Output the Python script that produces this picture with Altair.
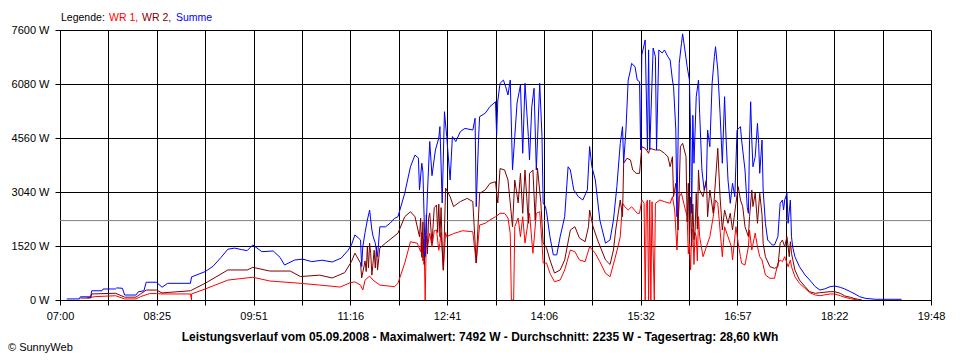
import altair as alt
import pandas as pd

# ---------------- data ----------------
SUMME_T = ["07:06","07:17","07:18","07:27","07:28","07:37","07:38","07:49","07:50","07:55","07:57","08:07","08:09","08:14","08:16","08:25","08:30","08:35","08:55","08:56",
           "09:08","09:15","09:22","09:28","09:34","09:40","09:45","09:50","09:58","10:08","10:14","10:18","10:27","10:34","10:42","10:51","11:00","11:08","11:14","11:17",
           "11:20","11:23","11:25","11:26","11:27","11:29","11:31","11:33","11:35","11:36","11:38","11:40","11:42","11:47","11:51","11:55","11:58","12:04","12:09","12:13",
           "12:16","12:17","12:19","12:20","12:22","12:24","12:26","12:28","12:31","12:34","12:35","12:37","12:39","12:41","12:44","12:46","12:49","12:53","12:57","13:04",
           "13:06","13:07","13:09","13:10","13:15","13:19","13:24","13:25","13:26","13:28","13:31","13:33","13:35","13:37","13:39","13:41","13:43","13:46","13:48","13:50",
           "13:53","13:54","13:56","13:58","14:00","14:03","14:05","14:06","14:08","14:09","14:12","14:15","14:18","14:21","14:25","14:28","14:30","14:33","14:37","14:41",
           "14:45","14:47","14:49","14:52","14:56","15:01","15:05","15:08","15:11","15:14","15:16","15:17","15:19","15:21","15:23","15:24","15:27","15:29","15:31","15:32",
           "15:33","15:34","15:36","15:38","15:39","15:40","15:43","15:45","15:46","15:48","15:51","15:53","15:56","15:58","16:00","16:01","16:03","16:04","16:06","16:08",
           "16:09","16:11","16:13","16:15","16:16","16:17","16:18","16:19","16:21","16:23","16:24","16:26","16:28","16:30","16:31","16:33","16:35","16:37","16:38","16:40",
           "16:42","16:44","16:46","16:47","16:49","16:51","16:53","16:55","16:57","17:00","17:01","17:04","17:06","17:07","17:08","17:09","17:10","17:11","17:13","17:15",
           "17:16","17:17","17:19","17:20","17:22","17:24","17:28","17:30","17:33","17:35","17:37","17:38","17:39","17:41","17:42","17:44","17:45","17:46","17:48","17:52",
           "17:57","18:01","18:06","18:10","18:14","18:19","18:23","18:28","18:32","18:37","18:41","18:45","18:50","18:59","19:22"]
SUMME_W = [30,30,90,90,260,260,310,310,340,330,140,140,230,260,500,500,360,470,470,650,
           800,950,1200,1430,1460,1420,1390,1550,1360,1380,1200,985,1126,1150,1080,1120,1070,1180,1400,1550,
           1830,1750,1690,940,1500,1900,2250,2530,1970,1800,1600,1220,2060,2060,2160,2300,2345,3010,3750,4080,
           4000,3100,3850,3600,1220,3010,4460,3500,4220,4560,4880,2730,5300,4600,3380,4600,4460,4740,4830,4785,
           5115,2630,4500,5160,5260,5440,5580,4640,5600,6100,6190,6000,5770,6190,3660,4600,5545,6050,4130,6100,
           4600,3940,5441,5960,3660,6100,4600,2730,2630,2485,1780,1270,1270,1780,2345,3750,3660,3100,2910,2815,
           3100,4320,3750,3380,2250,1600,1690,2250,3190,4410,4880,3850,4785,6190,6470,6660,6570,6190,6145,4220,
           6900,7040,7320,4220,7040,4222,7093,6848,4222,7037,6953,7037,6848,6755,6193,6004,4785,2345,6663,7226,
           7492,7037,6567,6193,4785,2440,5200,3848,5722,6193,5255,3659,3096,3378,4785,4315,6100,6848,7130,6474,
           5255,3848,5722,4785,3378,2722,3285,2908,4785,4878,4504,3659,2600,2440,4500,5580,4504,3750,4034,4974,
           4411,3566,4504,3096,2159,1689,1548,1548,1782,2722,2815,2533,2815,3003,2159,2815,1782,1500,1219,937,
           704,563,374,281,310,374,394,357,310,234,169,93,48,20,20]

WR2_T = ["07:18","07:27","07:28","07:49","07:57","08:07","08:11","08:16","08:25","08:30","08:55","09:08","09:28","09:45","09:50","10:05","10:23","10:32","10:49","11:00",
         "11:11","11:17","11:20","11:25","11:26","11:29","11:30","11:31","11:32","11:33","11:34","11:35","11:36","11:37","11:38","11:39","11:40","11:42","11:47","11:58",
         "12:04","12:09","12:13","12:17","12:18","12:19","12:20","12:21","12:22","12:23","12:24","12:25","12:26","12:28","12:30","12:32","12:33","12:34","12:35","12:36",
         "12:37","12:38","12:40","12:44","12:47","12:53","12:59","13:04","13:07","13:10","13:15","13:19","13:24","13:26","13:28","13:32","13:35","13:37","13:39","13:41",
         "13:44","13:46","13:48","13:50","13:53","13:54","13:57","13:59","14:01","14:04","14:06","14:09","14:12","14:16","14:21","14:25","14:30","14:34","14:38","14:43",
         "14:46","14:47","14:50","14:54","15:01","15:05","15:08","15:10","15:14","15:16","15:17","15:20","15:23","15:25","15:28","15:31","15:33","15:36","15:39","15:40",
         "15:45","15:49","15:53","15:56","15:58","16:00","16:01","16:03","16:05","16:07","16:09","16:12","16:13","16:14","16:15","16:16","16:17","16:18","16:19","16:20",
         "16:21","16:22","16:23","16:24","16:27","16:30","16:31","16:33","16:36","16:38","16:40","16:42","16:44","16:46","16:49","16:51","16:53","16:56","16:58","17:00",
         "17:02","17:04","17:07","17:08","17:10","17:11","17:13","17:15","17:17","17:19","17:20","17:22","17:26","17:30","17:33","17:35","17:37","17:39","17:41","17:43",
         "17:44","17:45","17:48","17:52","17:57","18:01","18:06","18:10","18:19","18:23","18:28","18:32","18:37","18:41","18:47"]
WR2_W = [55,55,170,190,80,80,170,280,280,200,260,470,845,845,920,815,815,660,700,620,
         770,1080,1320,1040,620,1100,800,1500,900,1600,1300,700,1040,1400,900,1500,845,1460,1600,1880,
         2345,2485,2345,1780,2300,1200,2200,1000,1400,2400,1300,2300,2450,1600,2600,2675,1900,2700,1780,2600,
         1500,840,3150,2910,2630,2770,2860,2770,1040,3000,3100,3280,3330,2730,3700,3660,3378,2730,2060,3378,
         2730,3566,2440,3659,2160,3566,3659,2252,3716,2730,1604,1464,1126,760,844,1126,1970,2063,1745,1641,
         2063,2533,2063,1689,1126,1000,1407,1970,2815,2345,3848,3989,3941,3659,3566,3566,4315,4270,4129,4270,
         4222,4222,4129,4034,3752,4034,2908,3285,1970,4315,4411,4034,2200,3285,1600,2900,1500,2700,1700,1970,
         3000,2000,3659,3096,2908,3378,2345,3096,2440,3378,4270,2908,1970,2533,2159,2440,1970,2722,3189,2815,
         2626,2063,1782,2345,3096,2630,3012,2159,3003,2400,1596,1219,937,892,937,1596,1689,1500,1782,1219,
         1641,1314,844,563,374,234,189,205,234,234,189,113,76,37,0]

WR1_T = ["07:24","07:31","07:49","07:57","08:07","08:11","08:19","08:25","08:30","08:55","08:56","08:56","09:08","09:28","09:50","10:05","10:32","10:49","11:07","11:16",
         "11:20","11:25","11:27","11:29","11:33","11:36","11:42","11:55","11:58","12:04","12:09","12:15","12:18","12:19","12:20","12:21","12:22","12:23","12:24","12:26",
         "12:28","12:30","12:32","12:34","12:35","12:36","12:38","12:40","12:41","12:47","12:55","13:04","13:07","13:10","13:15","13:19","13:24","13:28","13:32","13:35",
         "13:37","13:38","13:40","13:41","13:44","13:46","13:48","13:50","13:53","13:54","13:57","14:00","14:03","14:05","14:06","14:09","14:12","14:16","14:21","14:25",
         "14:30","14:34","14:38","14:43","14:47","14:52","14:56","15:01","15:05","15:09","15:12","15:14","15:16","15:18","15:21","15:24","15:29","15:31","15:33","15:35",
         "15:36","15:37","15:38","15:39","15:40","15:41","15:42","15:44","15:45","15:49","15:53","15:58","16:00","16:02","16:04","16:06","16:08","16:10","16:13","16:14",
         "16:15","16:16","16:17","16:18","16:19","16:20","16:21","16:22","16:23","16:24","16:27","16:30","16:33","16:36","16:38","16:40","16:42","16:44","16:46","16:49",
         "16:52","16:53","16:56","16:58","17:00","17:01","17:04","17:07","17:08","17:10","17:13","17:15","17:17","17:19","17:22","17:26","17:30","17:33","17:35","17:37",
         "17:39","17:42","17:44","17:45","17:48","17:52","17:57","18:01","18:06","18:10","18:19","18:23","18:28","18:32","18:37","18:43"]
WR1_W = [60,95,120,30,30,95,180,180,170,170,0,170,310,560,640,535,470,420,365,487,
         510,420,280,560,675,560,420,375,470,1040,1640,1600,1360,1900,1100,1700,0,1800,1500,1880,
         1500,1950,1970,1400,1600,1900,840,1900,1780,1870,1950,1920,1040,2110,2160,2250,2345,2440,2440,2308,
         1877,0,0,2063,2308,1782,2345,1604,2252,2440,1314,2440,2485,1604,1041,1041,752,515,563,844,
         1407,1360,1126,1078,1500,1314,1078,752,656,1126,1500,1782,2722,2626,2533,2626,2440,2440,2815,2722,
         0,2722,2815,0,2815,0,2767,0,2722,2815,2767,2722,2908,2533,1407,2908,3003,2722,2345,1300,
         1596,844,2000,1970,1000,1900,1782,1100,2345,1782,1219,1500,1782,2345,2815,2722,1970,1219,2063,1782,
         1500,1126,2063,1596,1219,1033,985,1500,1970,1407,1882,1500,1219,1126,704,611,611,1033,1126,1078,
         1219,937,1126,937,656,470,329,205,141,121,169,169,121,76,37,0]

AVERAGE_W = 2235
Y_TICKS = [0, 1520, 3040, 4560, 6080, 7600]
X_LABELS = ["07:00", "08:25", "09:51", "11:16", "12:41", "14:06", "15:32", "16:57", "18:22", "19:48"]
TITLE = "Leistungsverlauf vom 05.09.2008 - Maximalwert: 7492 W - Durchschnitt: 2235 W - Tagesertrag: 28,60 kWh"

T0, T1 = 7 * 60, 19 * 60 + 48
STEP = (T1 - T0) / 18


def to_min(s):
    h, m = s.split(":")
    return int(h) * 60 + int(m)


def frame(ts, ws):
    return pd.DataFrame({"t": [to_min(s) for s in ts], "w": ws, "i": range(len(ts))})


FONT = "Liberation Sans"
labels_js = "[" + ",".join("'%s'" % s for s in X_LABELS) + "]"
k = "((datum.value-%d)/%.6f)" % (T0, STEP * 2)
x_label_expr = "abs(%s - round(%s)) < 0.01 ? %s[round(%s)] : ''" % (k, k, labels_js, k)

x_enc = alt.X("t:Q",
              scale=alt.Scale(domain=[T0, T1], nice=False, zero=False),
              axis=alt.Axis(values=[T0 + i * STEP for i in range(19)], labelExpr=x_label_expr,
                            title=None, grid=True, gridColor="black", gridOpacity=1, gridWidth=1,
                            domainColor="black", tickColor="black", tickSize=5, labelPadding=5,
                            labelOverlap=False, labelFlush=False, labelFont=FONT, labelFontSize=11,
                            labelColor="black"))
y_enc = alt.Y("w:Q",
              scale=alt.Scale(domain=[0, 7600], nice=False),
              axis=alt.Axis(values=Y_TICKS, labelExpr="datum.value + ' W'", title=None,
                            grid=True, gridColor="black", gridOpacity=1, gridWidth=1,
                            domainColor="black", tickColor="black", tickSize=5, labelPadding=6,
                            labelFlush=False, labelFont=FONT, labelFontSize=11, labelColor="black"))


def series(ts, ws, color):
    return alt.Chart(frame(ts, ws)).mark_line(color=color, strokeWidth=1, clip=True).encode(
        x=x_enc, y=y_enc, order="i:Q")


avg = alt.Chart(pd.DataFrame({"w": [AVERAGE_W]})).mark_rule(color="#808080", strokeWidth=1).encode(
    y=alt.Y("w:Q"))

one = pd.DataFrame({"a": [0]})


def label(text, x, y, color="black", size=11, weight="normal", align="left"):
    return alt.Chart(one).mark_text(font=FONT, fontSize=size, fontWeight=weight, color=color,
                                    align=align, baseline="alphabetic").encode(
        x=alt.value(x), y=alt.value(y), text=alt.value(text))


chart = alt.layer(
    avg,
    series(WR1_T, WR1_W, "#ff0000"),
    series(WR2_T, WR2_W, "#800000"),
    series(SUMME_T, SUMME_W, "#0000ff"),
    label("Legende:", 1, -9, size=10.5),
    label("WR 1,", 49, -9, "#ff0000", size=10.5),
    label("WR 2,", 82, -9, "#800000", size=10.5),
    label("Summe", 116, -9, "#0000ff", size=10.5),
    label(TITLE, 420, 311, size=12, weight="bold", align="center"),
    label("© SunnyWeb", -52, 321, size=11),
).properties(
    width=871, height=270,
    padding={"left": 52, "top": 22, "right": 21, "bottom": 60},
    autosize=alt.AutoSizeParams(type="none"),
).configure_view(stroke=None).configure(background="white")

chart.save("out.html", embed_options={"renderer": "svg", "actions": False})
